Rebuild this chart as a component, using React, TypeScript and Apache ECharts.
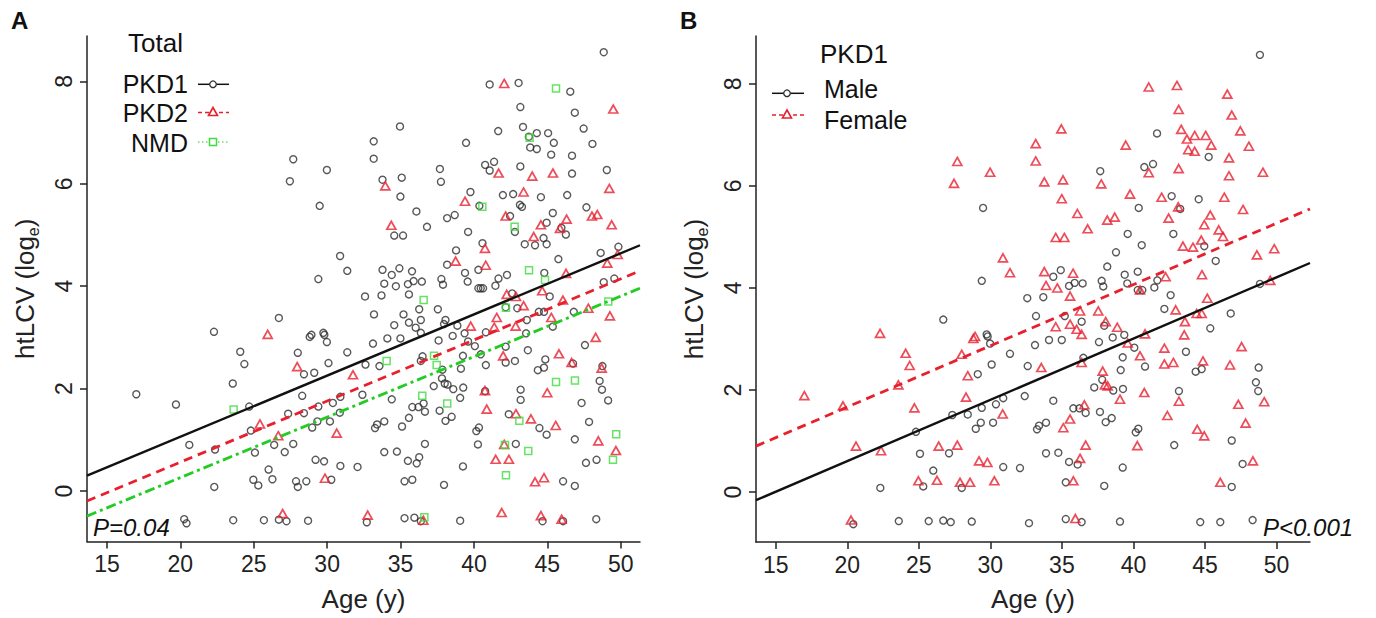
import React, { useEffect, useRef } from "react";
import * as echarts from "echarts";

// PKD1 patients, [age (y), htLCV (log_e)]
const pkd1Female: number[][] = [
  [34.96,7.12],[33.17,6.83],[27.69,6.48],[33.17,6.49],[29.98,6.27],[27.46,6.05],[33.77,6.08],[35.08,6.12],[37.75,6.04],[39.46,6.80],[34.99,5.75],[36.08,5.46],[38.17,5.33],[38.69,5.39],[36.80,5.16],[34.57,4.99],[35.17,4.99],[30.88,4.59],[31.37,4.30],[33.77,4.32],[35.78,4.29],[33.89,4.05],[34.68,4.00],[39.76,5.84],
  [41.07,7.94],[43.04,7.97],[46.56,7.80],[43.16,7.50],[46.87,7.39],[43.34,7.11],[43.74,6.92],[44.28,6.99],[45.05,6.99],[47.47,7.08],[45.44,6.80],[48.07,6.78],[43.83,6.71],[44.28,6.68],[46.68,6.55],[41.07,6.26],[43.16,6.34],[46.68,6.20],[49.05,6.27],[41.97,5.78],[46.35,5.78],[47.66,5.54],[43.13,5.59],[42.46,5.37],[45.37,5.43],[44.95,5.24],[45.96,5.14],[46.26,5.01],[44.74,4.94],[43.46,4.82],[44.16,4.80],[48.63,4.65],[49.84,4.77],[42.25,4.22],[44.79,4.26],[49.56,4.15],
  [22.29,3.11],[24.08,2.72],[24.36,2.48],[17.0,1.89],[19.70,1.69],[23.57,2.10],[24.69,1.65],[20.61,0.90],[22.36,0.81],[26.39,0.90],[24.97,0.22],[26.27,0.23],[20.26,-0.55],
  [35.57,3.84],[36.27,3.55],[37.54,3.55],[38.06,3.34],[34.57,3.24],[35.57,3.29],[36.03,3.19],[36.38,3.09],[38.87,3.23],[28.81,3.01],[28.93,3.05],[28.0,2.70],[33.56,2.44],[36.38,2.54],[28.42,2.28],[28.30,1.86],[37.85,2.37],[38.01,2.10],[38.2,2.08],[39.06,1.82],[30.86,1.53],[36.57,1.71],[35.57,1.43],[35.10,1.26],[27.69,0.92],[36.66,0.92],[29.21,0.61],[29.79,0.58],[36.27,0.66],[30.28,0.22],[27.88,0.19],[28.58,0.19],[35.80,0.22],[35.94,-0.52],[39.6,2.92],
  [40.46,3.96],[45.16,3.80],[42.95,3.57],[44.42,3.50],[44.77,3.50],[43.60,3.34],[43.55,3.08],[40.81,3.10],[42.16,2.82],[40.46,2.67],[47.56,2.85],[42.16,2.51],[42.79,2.54],[44.86,2.57],[46.75,2.49],[40.76,1.95],[43.18,1.78],[47.33,1.72],[49.14,1.77],[42.37,1.50],[47.84,1.35],[44.46,1.23],[44.95,1.10],[40.27,0.91],[48.35,0.61],[46.07,0.19]
];

const pkd1Male: number[][] = [
  [37.68,6.29],[29.49,5.57],[39.6,5.06],[38.78,4.70],[38.17,4.42],[39.39,4.26],[29.40,4.14],[34.92,4.35],[34.40,4.22],[35.50,4.04],[35.89,4.10],[36.45,4.09],[37.78,4.14],[37.89,4.03],[39.57,4.09],
  [48.84,8.57],[41.65,7.03],[45.26,6.57],[40.76,6.37],[41.37,6.43],[42.67,5.80],[44.56,5.74],[40.37,5.57],[43.27,5.55],[42.79,5.06],[40.58,4.84],[44.95,4.82],[45.75,4.53],[40.30,4.32],[41.67,4.15],[48.84,4.08],
  [40.30,3.96],[40.62,3.96],[41.46,4.01],[42.60,3.86],[42.16,3.59],[46.80,3.50],[45.37,3.21],[40.06,2.83],[43.67,2.75],[40.81,2.46],[44.35,2.36],[44.77,2.41],[48.75,2.44],[48.56,2.15],[48.72,1.98],[43.18,1.98],[40.16,1.17],[40.34,1.24],[42.85,0.92],[46.87,1.01],[47.63,0.55],[46.87,0.10],[44.67,-0.59],[46.07,-0.59],[48.33,-0.55],
  [26.71,3.38],[24.80,1.18],[25.08,0.75],[26.01,0.42],[25.31,0.11],[22.31,0.08],[20.42,-0.63],[23.60,-0.57],[25.69,-0.57],[26.71,-0.56],
  [32.58,3.80],[33.70,3.82],[33.19,3.45],[35.20,3.45],[36.38,3.34],[37.96,3.26],[29.74,3.09],[29.81,3.05],[29.98,2.91],[31.37,2.71],[33.12,2.88],[34.10,2.98],[34.99,2.98],[37.59,2.94],[38.55,3.03],[39.36,3.08],[39.25,2.64],[36.50,2.63],[30.09,2.50],[29.12,2.31],[32.61,2.47],[39.11,2.39],[37.82,2.20],[37.26,2.05],[38.59,1.99],[39.27,2.02],[32.40,1.88],[34.40,1.79],[30.90,1.84],[30.39,1.72],[29.40,1.65],[28.42,1.52],[27.34,1.51],[35.80,1.64],[36.22,1.64],[36.66,1.55],[37.66,1.57],[38.06,1.37],[38.48,1.45],[29.33,1.36],[28.98,1.24],[30.19,1.36],[33.40,1.30],[33.26,1.23],[33.89,1.36],[27.11,0.76],[33.89,0.76],[34.75,0.77],[35.50,0.59],[36.10,0.54],[30.90,0.49],[32.07,0.47],[39.25,0.48],[28.0,0.08],[35.27,0.19],[37.96,0.12],[27.23,-0.59],[28.70,-0.58],[32.70,-0.61],[35.27,-0.53],[36.38,-0.59],[39.06,-0.58]
];

const pkd2: number[][] = [
  [33.96,5.96],[34.37,5.19],[38.75,4.49],
  [42.06,7.96],[49.49,7.46],[41.68,6.21],[43.97,6.15],[45.38,6.21],[49.22,5.91],[43.38,5.84],[39.39,5.66],[42.16,5.37],[46.31,5.31],[48.04,5.37],[48.40,5.40],[49.38,5.20],[44.56,5.20],[45.86,5.13],[44.07,4.97],[40.75,4.74],[40.80,4.41],[46.27,4.25],[49.08,4.45],[49.79,4.62],
  [25.95,3.06],[25.42,1.31],[27.96,2.43],[31.76,2.27],[26.67,1.08],[30.65,1.13],[29.85,0.25],[26.97,-0.44],[32.76,-0.47],[36.55,-0.57],
  [42.23,3.84],[42.86,3.80],[44.65,3.91],[43.38,3.62],[46.06,3.73],[41.55,3.39],[39.78,3.22],[41.38,3.20],[42.84,3.22],[45.27,3.39],[47.79,3.57],[49.26,3.42],[48.29,3.00],[41.99,2.64],[45.79,2.68],[46.65,2.51],[48.70,2.40],[40.75,1.96],[44.99,1.92],[40.87,1.60],[42.86,1.51],[43.88,1.41],[45.57,1.28],[48.47,0.98],[49.67,0.79],[42.06,0.91],[41.48,0.62],[42.38,0.62],[44.16,0.18],[44.77,0.26],[41.89,-0.42],[44.56,-0.48],[45.97,-0.55]
];

const nmd: number[][] = [
  [45.59,7.86],[43.79,6.90],[40.57,5.55],[42.77,5.16],[43.75,4.31],[44.84,4.12],
  [23.63,1.59],[36.57,3.73],[34.05,2.54],[37.28,2.64],[37.46,2.46],[36.48,1.86],[38.18,1.71],[36.62,-0.51],
  [42.18,3.58],[49.15,3.70],[45.59,2.13],[46.88,2.16],[43.09,1.37],[42.11,0.90],[43.70,0.78],[42.18,0.31],[49.69,1.11],[49.47,0.61]
];

// Fitted regression lines, endpoints at the plot edges
const fitPkd1 = [[13.64, 0.30], [51.31, 4.80]];
const fitPkd2 = [[13.64, -0.195], [51.31, 4.30]];
const fitNmd = [[13.64, -0.49], [51.31, 3.96]];
const fitMale = [[13.62, -0.16], [52.34, 4.49]];
const fitFemale = [[13.62, 0.90], [52.34, 5.55]];

const xTicks = [15, 20, 25, 30, 35, 40, 45, 50];
const yTicks = [0, 2, 4, 6, 8];

const FONT = "Liberation Sans, Arial, sans-serif";
const BLACK = "#2e2e2e";
const RED = "#e8202e";
const GREEN = "#3fdc3f";
const GREEN_LINE = "#22cc22";

function xAxis(gridIndex: number, min: number, max: number) {
  return {
    type: "value",
    gridIndex,
    min,
    max,
    axisLine: { show: true, onZero: false, lineStyle: { color: "#222", width: 1.5 } },
    axisTick: { show: true, customValues: xTicks, length: 7, lineStyle: { color: "#222", width: 1.5 } },
    axisLabel: { customValues: xTicks, fontSize: 23, color: "#222", margin: 11, fontFamily: FONT },
    splitLine: { show: false },
    name: "Age (y)",
    nameLocation: "middle",
    nameGap: 44,
    nameTextStyle: { fontSize: 26, color: "#222", fontFamily: FONT },
  };
}

function yAxis(gridIndex: number, min: number, max: number) {
  return {
    type: "value",
    gridIndex,
    min,
    max,
    axisLine: { show: true, onZero: false, lineStyle: { color: "#222", width: 1.5 } },
    axisTick: { show: true, customValues: yTicks, length: 7, lineStyle: { color: "#222", width: 1.5 } },
    axisLabel: { customValues: yTicks, rotate: 90, fontSize: 23, color: "#222", margin: 12, fontFamily: FONT },
    splitLine: { show: false },
    name: "{a|htLCV (log}{s|e}{a|)}",
    nameLocation: "middle",
    nameGap: 46,
    nameTextStyle: {
      color: "#222",
      fontFamily: FONT,
      rich: {
        a: { fontSize: 26, color: "#222", fontFamily: FONT, lineHeight: 32, verticalAlign: "middle" },
        s: { fontSize: 16, color: "#222", fontFamily: FONT, lineHeight: 32, verticalAlign: "bottom" },
      },
    },
  };
}

function scatter(data: number[][], idx: number, symbol: string, size: any, color: string, bw: number) {
  return {
    type: "scatter",
    xAxisIndex: idx,
    yAxisIndex: idx,
    data,
    symbol,
    symbolSize: size,
    silent: true,
    itemStyle: { color: "rgba(0,0,0,0)", borderColor: color, borderWidth: bw },
    z: 2,
  };
}

function fitLine(data: number[][], idx: number, color: string, type: any, width: number) {
  return {
    type: "line",
    xAxisIndex: idx,
    yAxisIndex: idx,
    data,
    showSymbol: false,
    symbol: "none",
    silent: true,
    lineStyle: { color, type, width },
    z: 5,
  };
}

export default function App() {
  const ref = useRef<HTMLDivElement>(null);
  useEffect(() => {
    document.body.style.margin = "0";
    const chart = echarts.init(ref.current!, undefined, { renderer: "svg" });
    const txt = (x: number, y: number, text: string, extra: any = {}) => ({
      type: "text",
      x,
      y,
      style: { text, fontSize: 25, fill: "#111", fontFamily: FONT, textVerticalAlign: "middle", ...extra },
    });
    chart.setOption({
      animation: false,
      backgroundColor: "#ffffff",
      grid: [
        { left: 87, top: 36, width: 553, height: 505.5 },
        { left: 756, top: 36, width: 554, height: 506 },
      ],
      xAxis: [xAxis(0, 13.64, 51.31), xAxis(1, 13.62, 52.34)],
      yAxis: [yAxis(0, -0.986, 8.887), yAxis(1, -0.98, 8.94)],
      series: [
        scatter(pkd1Male.concat(pkd1Female), 0, "circle", 7, BLACK, 1.4),
        scatter(pkd2, 0, "triangle", [9, 8], RED, 1.7),
        scatter(nmd, 0, "rect", 7, GREEN, 1.5),
        fitLine(fitPkd1, 0, "#111", "solid", 2.4),
        fitLine(fitPkd2, 0, RED, [9, 6], 2.8),
        fitLine(fitNmd, 0, GREEN_LINE, [10, 4, 3, 4], 2.8),
        scatter(pkd1Male, 1, "circle", 7, BLACK, 1.4),
        scatter(pkd1Female, 1, "triangle", [9, 8], RED, 1.7),
        fitLine(fitMale, 1, "#111", "solid", 2.4),
        fitLine(fitFemale, 1, RED, [9, 6], 2.8),
      ],
      graphic: [
        txt(11, 20, "A", { fontWeight: "bold", fontSize: 24 }),
        txt(680, 20, "B", { fontWeight: "bold", fontSize: 24 }),
        // left legend
        txt(128, 43, "Total", { fontSize: 26 }),
        txt(188, 84, "PKD1", { textAlign: "right" }),
        txt(188, 113, "PKD2", { textAlign: "right" }),
        txt(188, 143, "NMD", { textAlign: "right" }),
        { type: "line", shape: { x1: 198, y1: 84.3, x2: 229, y2: 84.3 }, style: { stroke: "#111", lineWidth: 1.5 } },
        { type: "circle", shape: { cx: 213, cy: 84.3, r: 3.3 }, style: { fill: "#fff", stroke: BLACK, lineWidth: 1.3 } },
        { type: "line", shape: { x1: 198, y1: 112.5, x2: 229, y2: 112.5 }, style: { stroke: RED, lineWidth: 1.5, lineDash: [4, 3] } },
        { type: "polygon", shape: { points: [[213, 107.5], [217.5, 115.5], [208.5, 115.5]] }, style: { fill: "#fff", stroke: RED, lineWidth: 1.6 } },
        { type: "line", shape: { x1: 198, y1: 142, x2: 229, y2: 142 }, style: { stroke: GREEN_LINE, lineWidth: 1.2, lineDash: [1.5, 2.5] } },
        { type: "rect", shape: { x: 209.5, y: 138.5, width: 7, height: 7 }, style: { fill: "#fff", stroke: GREEN, lineWidth: 1.5 } },
        // right legend
        txt(820, 54, "PKD1", { fontSize: 26 }),
        txt(824, 89, "Male"),
        txt(824, 120, "Female"),
        { type: "line", shape: { x1: 772, y1: 93.3, x2: 804, y2: 93.3 }, style: { stroke: "#111", lineWidth: 1.5 } },
        { type: "circle", shape: { cx: 787, cy: 93.3, r: 3.3 }, style: { fill: "#fff", stroke: BLACK, lineWidth: 1.3 } },
        { type: "line", shape: { x1: 772, y1: 115, x2: 804, y2: 115 }, style: { stroke: RED, lineWidth: 1.5, lineDash: [4, 3] } },
        { type: "polygon", shape: { points: [[787, 110], [791.5, 118], [782.5, 118]] }, style: { fill: "#fff", stroke: RED, lineWidth: 1.6 } },
        // p values
        txt(93, 527, "P=0.04", { fontStyle: "italic", fontSize: 24 }),
        txt(1263, 527, "P<0.001", { fontStyle: "italic", fontSize: 24 }),
      ],
    });
    return () => chart.dispose();
  }, []);
  return <div ref={ref} style={{ position: "absolute", left: 0, top: 0, width: 1376, height: 618 }} />;
}
